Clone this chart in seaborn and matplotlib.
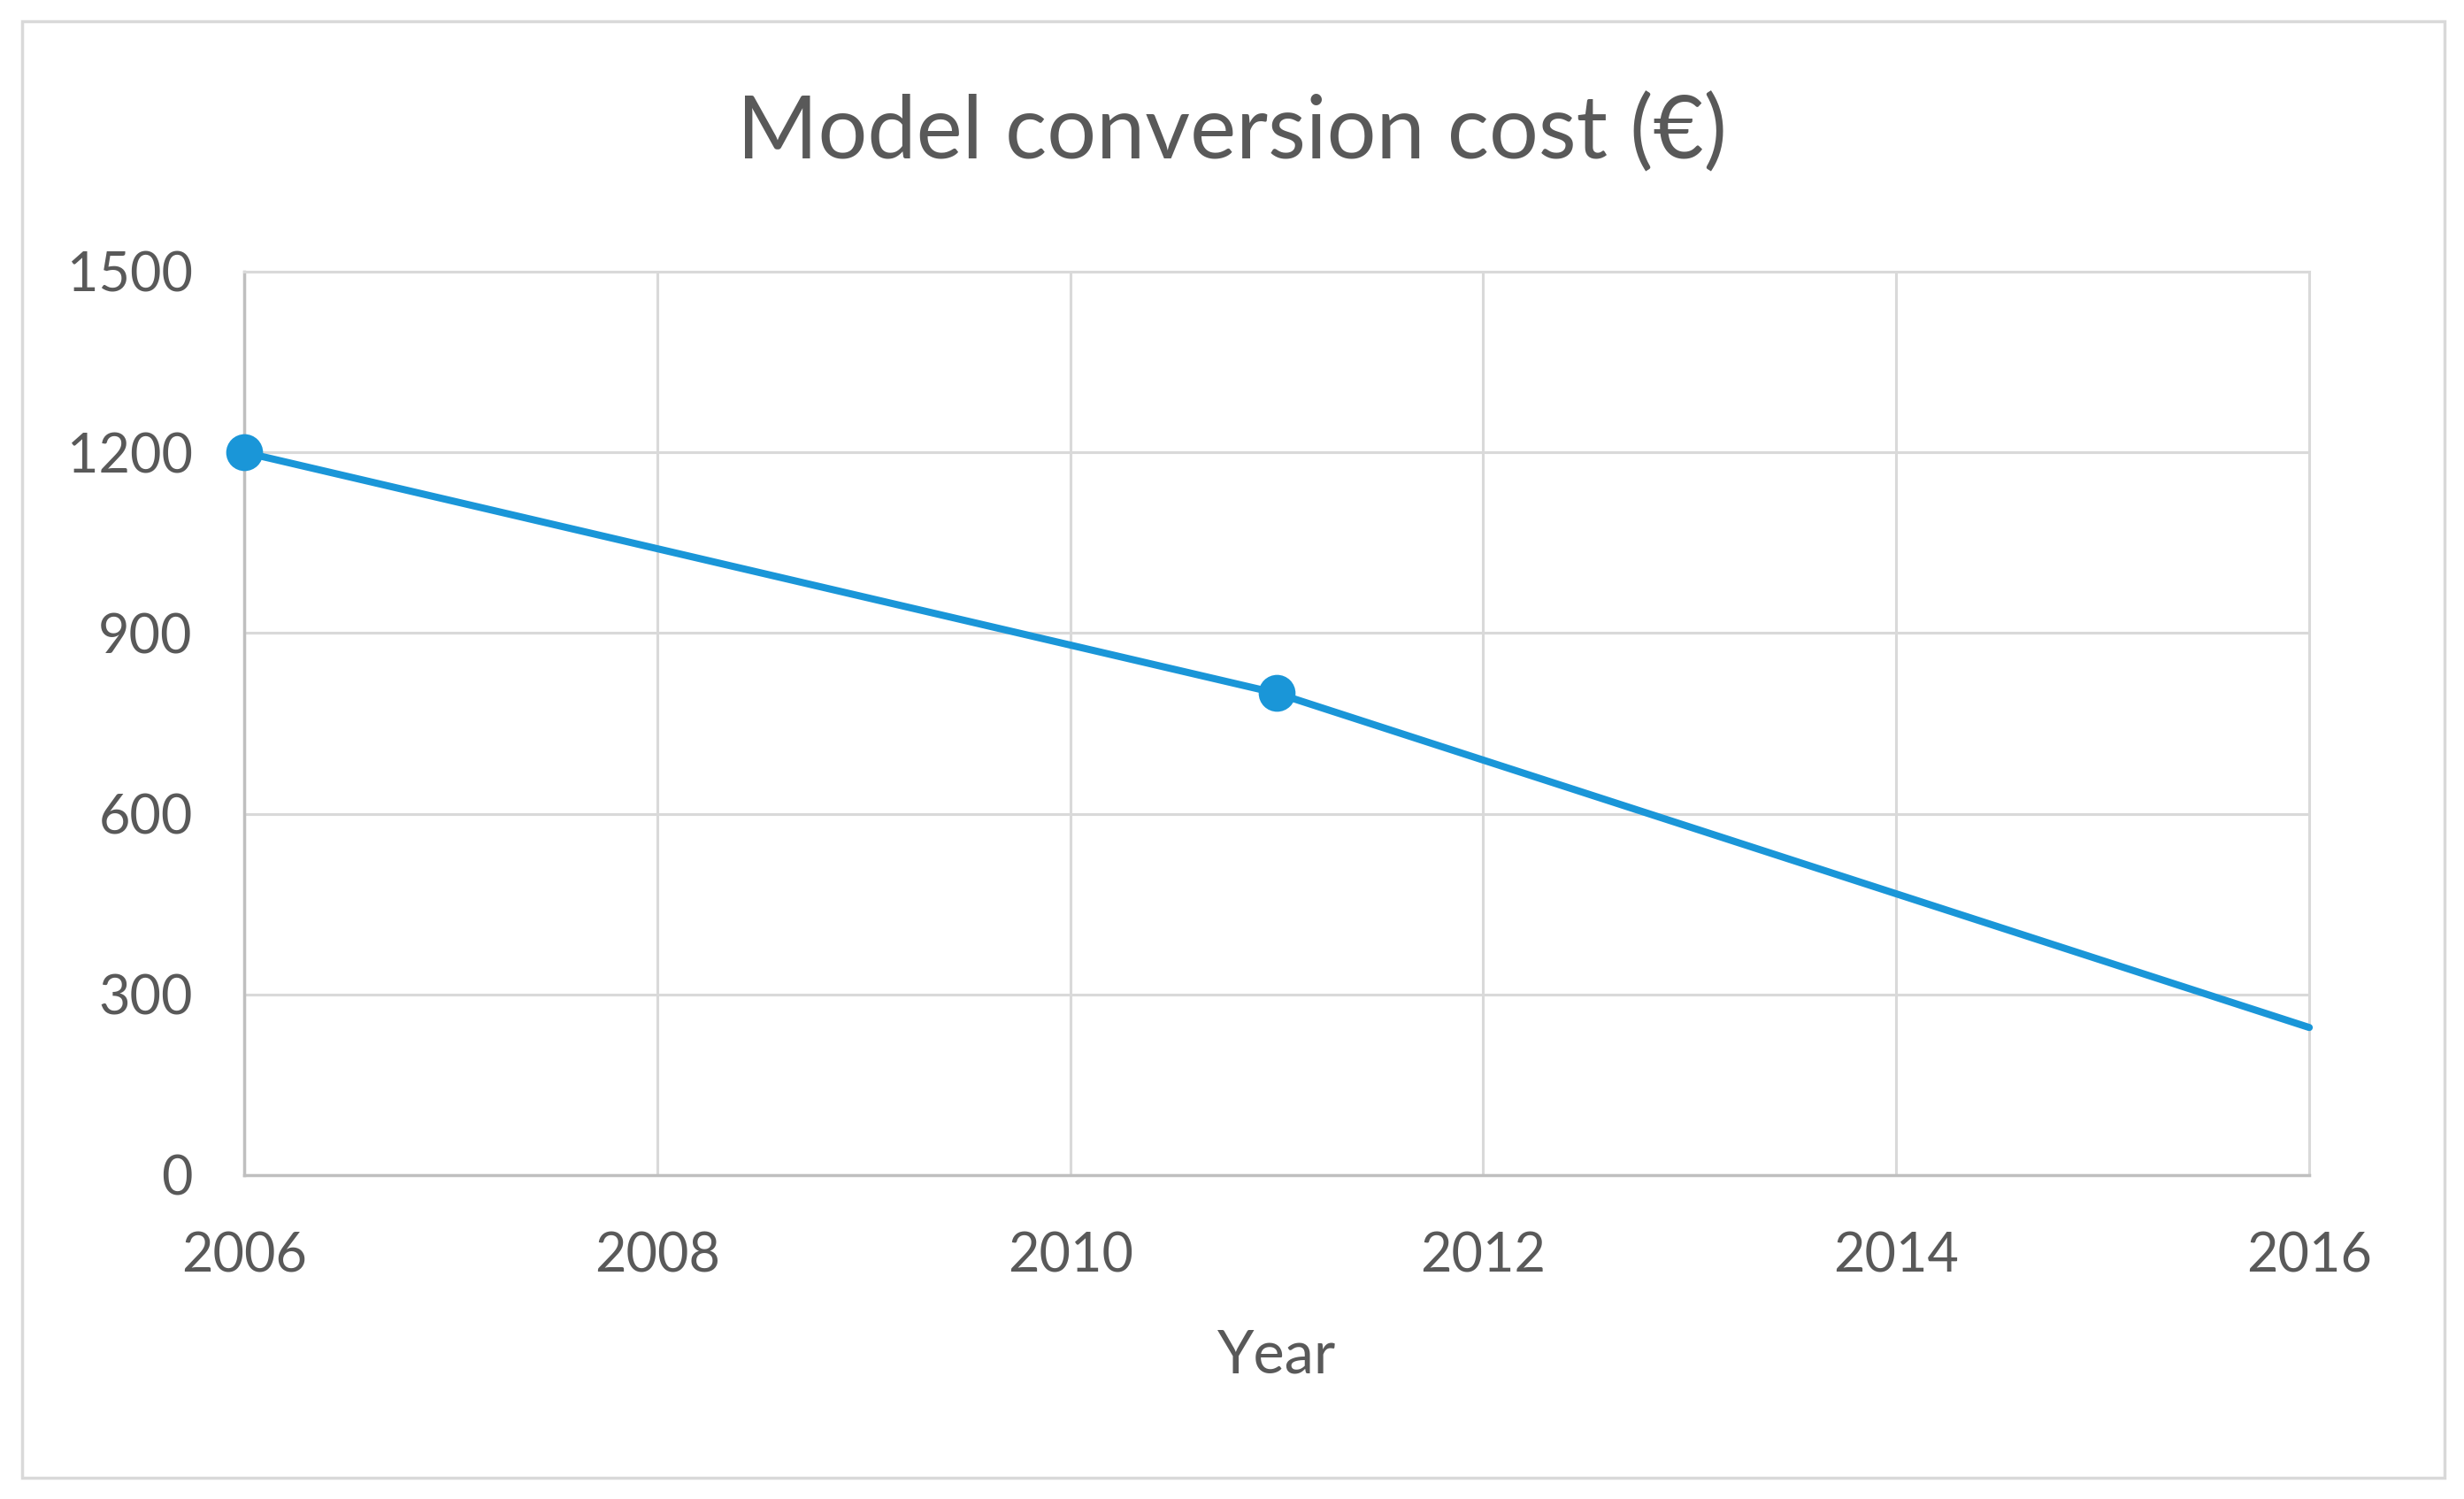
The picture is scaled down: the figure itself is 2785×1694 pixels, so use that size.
import matplotlib
matplotlib.use("Agg")
import matplotlib.pyplot as plt
import seaborn as sns
import pandas as pd
from matplotlib.patches import Rectangle

# data
years = [2006, 2011, 2016]
cost = [1200, 800, 245]
x_ticks = [2006, 2008, 2010, 2012, 2014, 2016]
y_ticks = [0, 300, 600, 900, 1200, 1500]

df = pd.DataFrame({"Year": years, "Cost": cost})

sns.set_theme(style="white")
plt.rcParams['font.family'] = ['Lato', 'DejaVu Sans']

text_col = "#595959"
grid_col = "#d9d9d9"
line_col = "#1a96d8"

fig = plt.figure(figsize=(27.85, 16.94), dpi=100)
ax = fig.add_axes([0.0991, 0.2161, 0.8381, 0.6027])

sns.lineplot(data=df, x="Year", y="Cost", ax=ax, color=line_col, linewidth=5.8,
             marker="o", markersize=30, markeredgewidth=0, markevery=[0, 1],
             clip_on=False, zorder=5)

ax.set_xlim(2006, 2016)
ax.set_ylim(0, 1500)
ax.set_xticks(x_ticks)
ax.set_yticks(y_ticks)
ax.grid(True, color=grid_col, linewidth=2.2)
ax.set_axisbelow(True)

for s in ["top", "right"]:
    ax.spines[s].set_color(grid_col)
    ax.spines[s].set_linewidth(2.2)
for s in ["left", "bottom"]:
    ax.spines[s].set_color("#bfbfbf")
    ax.spines[s].set_linewidth(2.5)

ax.tick_params(axis="both", labelsize=44, colors=text_col, length=0)
ax.tick_params(axis="y", pad=42)
ax.tick_params(axis="x", pad=46)

ax.set_xlabel("Year", fontsize=48, color=text_col, labelpad=38)
ax.set_ylabel("")
fig.suptitle("Model conversion cost (€)", fontsize=71, color=text_col,
             y=0.911, va="center")

# outer chart border
fig.patches.append(Rectangle((25 / 2785, 24 / 1694), (2763 - 25) / 2785, (1670 - 24) / 1694,
                             transform=fig.transFigure, fill=False,
                             edgecolor=grid_col, linewidth=2.5))

fig.savefig("out.png", dpi=100, facecolor="white")
